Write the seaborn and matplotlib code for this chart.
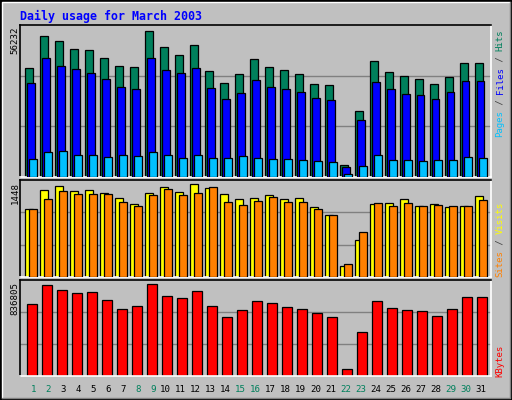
import matplotlib

matplotlib.use("Agg")
import matplotlib.pyplot as plt
import pandas as pd
import seaborn as sns
from matplotlib.lines import Line2D

days = list(range(1, 32))
weekend_days = [1, 2, 8, 9, 15, 16, 22, 23, 29, 30]

hits = [41976, 54314, 52406, 49354, 48972, 45919, 42866, 42485, 56232, 50117, 47064,
        50880, 40958, 36379, 39814, 45538, 42485, 41340, 39814, 35998, 35616, 4706,
        25313, 44774, 40577, 39050, 37906, 35998, 38669, 44011, 44011]
files = [36379, 45919, 42866, 41722, 40195, 37906, 34853, 34090, 45919, 41340, 40195,
         42103, 34471, 29892, 32182, 37524, 34853, 34090, 32945, 30274, 29510, 3943,
         21878, 36761, 34090, 31800, 31418, 29892, 32945, 37142, 37142]
pages = [6996, 9667, 10049, 8522, 8522, 7759, 8522, 8141, 9667, 8522, 7378, 8522,
         7378, 7378, 8141, 7378, 6996, 6996, 6614, 6233, 5851, 1272, 4325, 8522, 6614,
         6614, 6233, 6614, 6614, 7759, 7378]
visits = [1056, 1354, 1417, 1338, 1354, 1307, 1228, 1134, 1307, 1401, 1322, 1448,
          1385, 1291, 1213, 1228, 1275, 1213, 1228, 1087, 962, 178, 570, 1134, 1150,
          1213, 1103, 1134, 1087, 1103, 1260]
sites = [1056, 1213, 1338, 1291, 1291, 1291, 1166, 1103, 1275, 1370, 1275, 1307,
         1401, 1166, 1119, 1181, 1244, 1166, 1166, 1056, 962, 209, 695, 1150, 1103,
         1150, 1103, 1119, 1103, 1103, 1197]
kbytes = [653556, 827634, 781824, 754338, 763500, 690204, 607746, 635232, 836805,
          726852, 708528, 772662, 635232, 534450, 598584, 681042, 662718, 626070,
          607746, 571098, 534450, 67188, 397020, 681042, 616908, 598584, 589422,
          543612, 607746, 717690, 717690]

BG = "#C0C0C0"
C_HITS, C_FILES, C_PAGES = "#00805C", "#0000FF", "#00C0FF"
C_VISITS, C_SITES, C_KB = "#FFFF00", "#FF8000", "#FF0000"
MONO = "DejaVu Sans Mono"

sns.set_theme(style="white")
plt.rcParams["font.family"] = MONO

W, H = 512, 400
fig = plt.figure(figsize=(W / 100, H / 100), dpi=100, facecolor=BG)


def px_axes(x0, y0, x1, y1):
    ax = fig.add_axes([x0 / W, 1 - y1 / H, (x1 - x0) / W, (y1 - y0) / H])
    ax.set_facecolor(BG)
    for side in ("left", "top"):
        ax.spines[side].set_color("black")
    for side in ("right", "bottom"):
        ax.spines[side].set_color("white")
    for s in ax.spines.values():
        s.set_linewidth(1.2)
    ax.set_xticks([])
    ax.set_yticks([])
    ax.set_xlabel("")
    ax.set_ylabel("")
    ax.set_xlim(0.39, 31.8)
    return ax


def bars(ax, values, offset, width, color, z):
    df = pd.DataFrame({"x": [d + offset for d in days], "y": values})
    sns.barplot(data=df, x="x", y="y", native_scale=True, width=width, color=color,
                edgecolor="black", linewidth=0.9, saturation=1, ax=ax, zorder=z)


def finish(ax, vmax):
    top = vmax / 0.96
    ax.set_ylim(0, top)
    for f in (1 / 3, 2 / 3):
        ax.axhline(top * f, color="#808080", lw=1, zorder=0.5)
    ax.set_xlim(0.39, 31.8)
    ax.set_xticks([])
    ax.set_yticks([])
    ax.set_xlabel("")
    ax.set_ylabel("")


ax1 = px_axes(20, 25, 491, 177)
bars(ax1, hits, 0.0, 0.51, C_HITS, 2)
bars(ax1, files, 0.1, 0.53, C_FILES, 3)
bars(ax1, pages, 0.26, 0.49, C_PAGES, 4)
finish(ax1, max(hits))

ax2 = px_axes(20, 180, 491, 277)
bars(ax2, visits, 0.0, 0.51, C_VISITS, 2)
bars(ax2, sites, 0.26, 0.49, C_SITES, 3)
finish(ax2, max(visits))

ax3 = px_axes(20, 280, 491, 376)
bars(ax3, kbytes, 0.17, 0.67, C_KB, 2)
finish(ax3, max(kbytes))

# title
fig.text(20 / W, 1 - 16 / H, "Daily usage for March 2003", color="#0000FF",
         fontsize=8.4, fontweight="bold", va="center", ha="left")

# left max labels
for label, ytop in ((str(max(hits)), 27), (str(max(visits)), 182), (str(max(kbytes)), 282)):
    fig.text(15 / W, 1 - ytop / H, label, rotation=90, fontsize=6.6, color="black",
             ha="center", va="top")

# right legend labels, stacked bottom to top
CH = 5.35


def side_label(parts, ybottom):
    y = ybottom
    for txt, col in parts:
        fig.text(500 / W, 1 - y / H, txt, rotation=90, fontsize=6.5, color=col,
                 ha="center", va="bottom")
        y -= len(txt) * CH


side_label([("Pages", C_PAGES), (" / ", "#404040"), ("Files", C_FILES),
            (" / ", "#404040"), ("Hits", C_HITS)], 137)
side_label([("Sites", C_SITES), (" / ", "#404040"), ("Visits", C_VISITS)], 277)
side_label([("KBytes", C_KB)], 377)

# day labels
for d in days:
    xc = 29.15 + (d - 1) * 15.0 + (4.0 if d < 10 else 1.5)
    col = C_HITS if d in weekend_days else "black"
    fig.text(xc / W, 1 - 389 / H, str(d), fontsize=6.6, color=col,
             ha="center", va="center")

# outer bevel border
fig.add_artist(Line2D([0, 1, 1, 0, 0], [0, 0, 1, 1, 0], transform=fig.transFigure,
                      color="black", lw=2.5))
fig.add_artist(Line2D([2 / W, 2 / W, 1 - 2 / W], [2 / H, 1 - 2 / H, 1 - 2 / H],
                      transform=fig.transFigure, color="white", lw=1))
fig.add_artist(Line2D([2 / W, 1 - 2 / W, 1 - 2 / W], [2 / H, 2 / H, 1 - 2 / H],
                      transform=fig.transFigure, color="#808080", lw=1))

fig.savefig("out.png", dpi=100, facecolor=BG)
